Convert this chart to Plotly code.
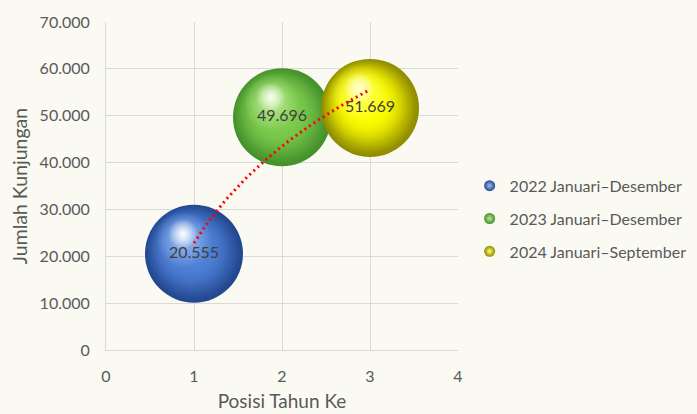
import numpy as np
import plotly.graph_objects as go

# ---- data ----
series_names = ["2022 Januari\u2013Desember", "2023 Januari\u2013Desember", "2024 Januari\u2013September"]
positions = [1, 2, 3]
visits = [20555, 49696, 51669]
value_labels = ["20.555", "49.696", "51.669"]
x_ticks = [0, 1, 2, 3, 4]
y_ticks = [0, 10000, 20000, 30000, 40000, 50000, 60000, 70000]

# ---- style ----
W, H = 697, 414
M = dict(l=106, r=239, t=22, b=64, autoexpand=False)
X_RANGE = [0, 4]
Y_RANGE = [0, 70000]
px_x = (X_RANGE[1] - X_RANGE[0]) / (W - M["l"] - M["r"])
px_y = (Y_RANGE[1] - Y_RANGE[0]) / (H - M["t"] - M["b"])
BG = "#FAFAF3"
GRID = "#D9D9D9"
TXT = "#595959"
FONT = "Lato"
BUBBLE = 98
palette = [
    dict(edge="#22468F", mid=(80, 130, 216), light=(160, 190, 240), hi="#FFFFFF"),
    dict(edge="#42902A", mid=(126, 204, 78), light=(185, 233, 148), hi="#F6FFEE"),
    dict(edge="#8E8A00", mid=(255, 255, 0), light=(255, 255, 110), hi="#FFFFC8"),
]


def rgba(c, a):
    return f"rgba({c[0]},{c[1]},{c[2]},{a})"


fig = go.Figure()

for i in range(len(visits)):
    c = palette[i]
    x0, y0 = positions[i], visits[i]
    # base sphere
    fig.add_trace(go.Scatter(
        x=[x0], y=[y0], mode="markers", showlegend=False, hoverinfo="skip",
        marker=dict(size=BUBBLE, color=c["edge"], line=dict(width=0),
                    gradient=dict(type="radial", color=rgba(c["mid"], 1)))))
    # lit layers shifted up-left
    for s, dx, dy, col in [(94, -2, -2, c["mid"]), (84, -5, -6, c["mid"]),
                           (70, -8, -10, c["mid"]), (56, -10, -14, c["light"])]:
        fig.add_trace(go.Scatter(
            x=[x0 + dx * px_x], y=[y0 - dy * px_y], mode="markers", showlegend=False,
            hoverinfo="skip",
            marker=dict(size=s, color=rgba(col, 0), line=dict(width=0),
                        gradient=dict(type="radial", color=rgba(col, 1)))))
    # specular highlight
    fig.add_trace(go.Scatter(
        x=[x0 - 11 * px_x], y=[y0 + 20 * px_y], mode="markers", showlegend=False, hoverinfo="skip",
        marker=dict(size=30, color="rgba(255,255,255,0)", line=dict(width=0),
                    gradient=dict(type="radial", color=c["hi"]))))

# logarithmic trendline fitted to the data
a, b = np.polyfit(np.log(positions), visits, 1)
tx = np.linspace(min(positions), max(positions), 60)
ty = a * np.log(tx) + b
fig.add_trace(go.Scatter(
    x=tx, y=ty, mode="lines", showlegend=False, hoverinfo="skip",
    line=dict(color="#FF0000", width=3, dash="2px,3.5px")))

# value labels
fig.add_trace(go.Scatter(
    x=positions, y=visits, mode="text", text=value_labels, showlegend=False, hoverinfo="skip",
    textposition="middle center", textfont=dict(family=FONT, size=16, color="#404040")))

# legend entries
for i, name in enumerate(series_names):
    c = palette[i]
    fig.add_trace(go.Scatter(
        x=[None], y=[None], mode="markers", name=name, legendgroup=f"g{i}",
        marker=dict(size=11, color=c["edge"], line=dict(width=0),
                    gradient=dict(type="radial", color=rgba(c["light"], 1)))))

fig.update_layout(
    width=W, height=H, margin=M,
    paper_bgcolor=BG, plot_bgcolor=BG,
    separators=",.",
    font=dict(family=FONT, size=16, color=TXT),
    legend=dict(x=1.033, xanchor="left", y=0.40, yanchor="middle",
                bgcolor="rgba(0,0,0,0)", tracegroupgap=9,
                font=dict(family=FONT, size=16, color=TXT)),
    xaxis=dict(range=X_RANGE, tickvals=x_ticks, showgrid=True, gridcolor=GRID, gridwidth=1,
               showline=True, linecolor=GRID, zeroline=False, ticks="", ticklabelstandoff=12,
               title=dict(text="Posisi Tahun Ke", standoff=10, font=dict(size=19, color=TXT))),
    yaxis=dict(range=Y_RANGE, tickvals=y_ticks, tickformat=",d", showgrid=True, gridcolor=GRID,
               gridwidth=1, showline=True, linecolor=GRID, zeroline=False, ticks="",
               ticklabelstandoff=12,
               title=dict(text="Jumlah Kunjungan", standoff=6, font=dict(size=19.5, color=TXT))),
)

fig.write_html("out.html", config={"displayModeBar": False},
               post_script="document.body.style.margin='0';")
